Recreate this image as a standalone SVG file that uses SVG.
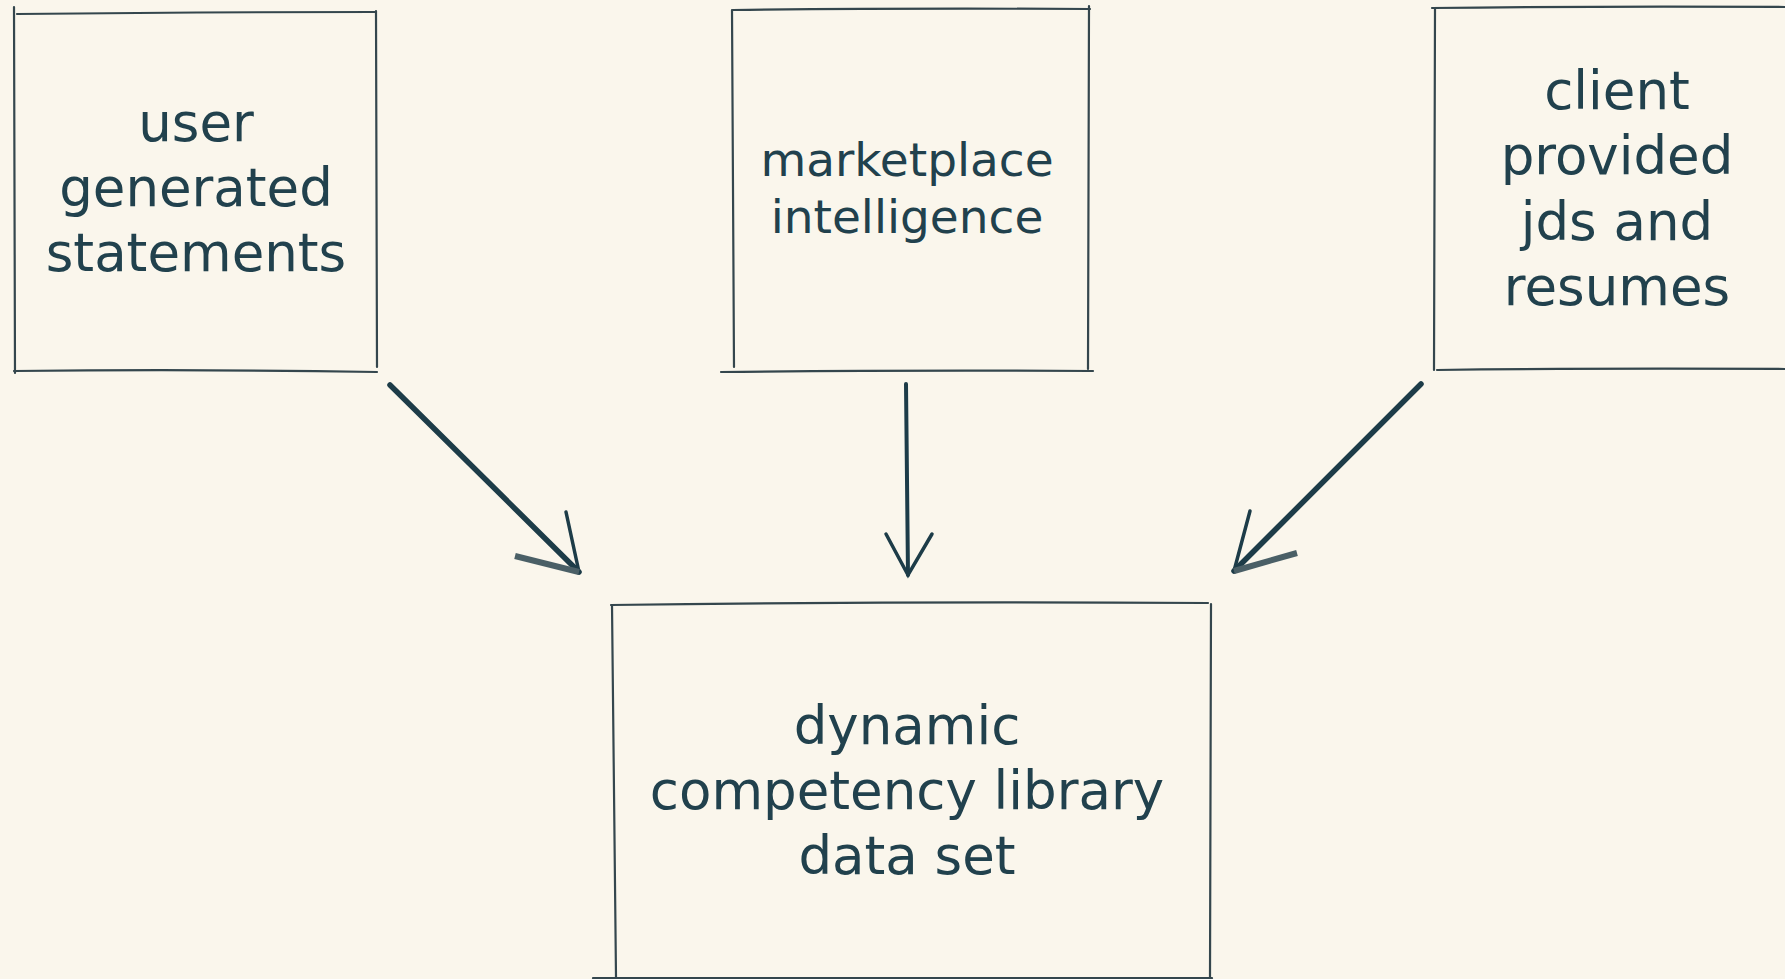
<svg xmlns="http://www.w3.org/2000/svg" width="1785" height="979" viewBox="0 0 1785 979">
  <style>
    .edge { fill: none; stroke: #34464d; stroke-width: 2.2; stroke-linecap: round; }
    .lbl { font-family: "DejaVu Sans", "Liberation Sans", sans-serif; fill: #21414d; text-anchor: middle; }
    .big { font-size: 53px; }
    .mid { font-size: 47px; }
    .shaft { fill: none; stroke: #1d3c48; stroke-linecap: round; }
    .barb { fill: none; stroke: #1d3c48; stroke-width: 3.5; stroke-linecap: round; }
    .barb2 { fill: none; stroke: #4a5f66; stroke-width: 6; stroke-linecap: butt; }
  </style>
  <rect x="0" y="0" width="1785" height="979" fill="#faf6ec"/>

  <g id="node-user-generated">
    <path class="edge" d="M17 14 Q200 12 375 12"/>
    <path class="edge" d="M14 7 L15 373"/>
    <path class="edge" d="M376 11 L377 367"/>
    <path class="edge" d="M14 371 Q200 369 377 372"/>
    <text class="lbl big" x="196" y="141">user</text>
    <text class="lbl big" x="196" y="206">generated</text>
    <text class="lbl big" x="196" y="271">statements</text>
  </g>

  <g id="node-marketplace">
    <path class="edge" d="M733 10 Q900 8 1090 9"/>
    <path class="edge" d="M732 10 L734 367"/>
    <path class="edge" d="M1089 6 L1088 369"/>
    <path class="edge" d="M721 372 Q900 370 1093 371"/>
    <text class="lbl mid" x="907" y="176">marketplace</text>
    <text class="lbl mid" x="907" y="233">intelligence</text>
  </g>

  <g id="node-client">
    <path class="edge" d="M1432 8 Q1600 6 1785 7"/>
    <path class="edge" d="M1435 9 L1434 370"/>
    <path class="edge" d="M1437 370 Q1600 368 1785 369"/>
    <text class="lbl big" x="1617" y="109">client</text>
    <text class="lbl big" x="1617" y="174">provided</text>
    <text class="lbl big" x="1617" y="240">jds and</text>
    <text class="lbl big" x="1617" y="305">resumes</text>
  </g>

  <g id="node-dynamic">
    <path class="edge" d="M611 605 Q900 601 1208 603"/>
    <path class="edge" d="M612 605 L616 977"/>
    <path class="edge" d="M1211 604 L1210 977"/>
    <path class="edge" d="M593 978 L1212 978"/>
    <text class="lbl big" x="907" y="744">dynamic</text>
    <text class="lbl big" x="907" y="809">competency library</text>
    <text class="lbl big" x="907" y="874">data set</text>
  </g>

  <g id="connectors">
    <path class="shaft" stroke-width="5.5" d="M390 385 L579 572"/>
    <path class="barb" d="M566 512 L579 572"/>
    <path class="barb2" d="M515 556 L579 572"/>

    <path class="shaft" stroke-width="4" d="M906 384 L908 575"/>
    <path class="barb" d="M886 534 L908 575 L932 534"/>

    <path class="shaft" stroke-width="5.5" d="M1421 384 L1234 571"/>
    <path class="barb" d="M1250 511 L1234 571"/>
    <path class="barb2" d="M1297 553 L1234 571"/>
  </g>
</svg>
